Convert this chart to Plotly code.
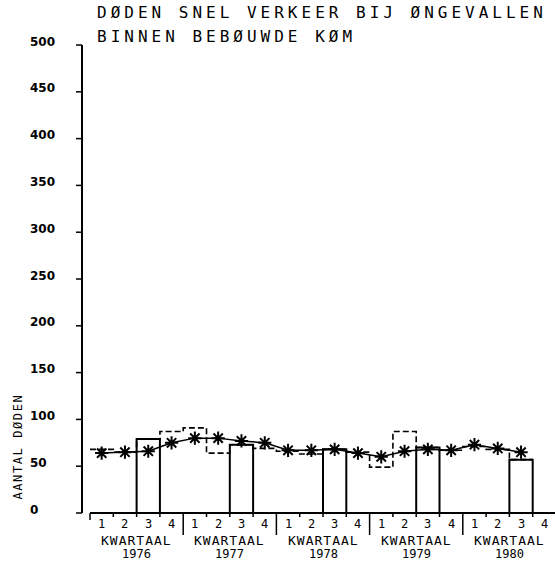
import plotly.graph_objects as go

# ---- data -------------------------------------------------------------
QUARTER_LABELS = ["1", "2", "3", "4"]
YEARS = ["1976", "1977", "1978", "1979", "1980"]
# deaths per quarter, 1976 Q1 .. 1980 Q3
DEATHS = [68, 65, 79, 87, 91, 64, 73, 69, 66, 63, 68, 65, 49, 87, 70, 67, 71, 68, 57]
# smoothed trend (moving average) per quarter
TREND = [64, 65, 66, 75, 80, 80, 77, 75, 67, 67, 68, 64, 60, 66, 68, 67, 73, 69, 65]
Y_TICKS = [0, 50, 100, 150, 200, 250, 300, 350, 400, 450, 500]
Y_TICK_TEXT = [str(v) for v in Y_TICKS]
TITLE_LINES = ["DØDEN SNEL VERKEER BIJ ØNGEVALLEN", "BINNEN BEBØUWDE KØM"]
Y_TITLE = "AANTAL DØDEN"
X_TITLE = "KWARTAAL"
HIGHLIGHT_QUARTER = 3  # third quarters are drawn as full bars

# ---- geometry ---------------------------------------------------------
W, H = 555, 562
X_RANGE = [-3.863, 19.957]
Y_RANGE = [-52.35, 548.1]
PX_X = (X_RANGE[1] - X_RANGE[0]) / W
PX_Y = (Y_RANGE[1] - Y_RANGE[0]) / H
AXIS_X = -8 * PX_X           # y-axis sits a little left of the first quarter
N_Q = len(YEARS) * len(QUARTER_LABELS)

MONO = "DejaVu Sans Mono"
SANS = "DejaVu Sans"
INK = "black"

fig = go.Figure()

# third-quarter bars
bar_x = [i + 0.5 for i in range(len(DEATHS)) if i % 4 == HIGHLIGHT_QUARTER - 1]
bar_y = [DEATHS[i] for i in range(len(DEATHS)) if i % 4 == HIGHLIGHT_QUARTER - 1]
fig.add_trace(go.Bar(
    x=bar_x, y=bar_y, width=1,
    marker=dict(color="rgba(0,0,0,0)", line=dict(color=INK, width=2)),
    hoverinfo="skip",
))

# quarterly values as a dashed step outline
fig.add_trace(go.Scatter(
    x=list(range(len(DEATHS))) + [len(DEATHS)],
    y=DEATHS + [DEATHS[-1]],
    mode="lines",
    line=dict(shape="hv", dash="6px,3px", color=INK, width=1.6),
    hoverinfo="skip",
))

# trend line with asterisk markers
fig.add_trace(go.Scatter(
    x=[i + 0.5 for i in range(len(TREND))],
    y=TREND,
    mode="lines+markers",
    line=dict(color=INK, width=1.5),
    marker=dict(symbol="asterisk-open", size=11, color=INK,
                line=dict(color=INK, width=2)),
    hoverinfo="skip",
))

shapes = []
# y axis
shapes.append(dict(type="line", xref="x", yref="y", x0=AXIS_X, x1=AXIS_X,
                   y0=0, y1=Y_TICKS[-1], line=dict(color=INK, width=2)))
for v in Y_TICKS:
    shapes.append(dict(type="line", xref="x", yref="y",
                       x0=AXIS_X - 6 * PX_X, x1=AXIS_X, y0=v, y1=v,
                       line=dict(color=INK, width=1.5)))
# x axis baseline
shapes.append(dict(type="line", xref="x", yref="y", x0=0, x1=N_Q, y0=0, y1=0,
                   line=dict(color=INK, width=2)))
# quarter and year boundary ticks
for b in range(N_Q + 1):
    if b == 0:
        ln = 7
    elif b % 4 == 0:
        ln = 22
    else:
        ln = 4
    shapes.append(dict(type="line", xref="x", yref="y", x0=b, x1=b,
                       y0=0, y1=-ln * PX_Y, line=dict(color=INK, width=1.5)))

annotations = []
# title
for k, line in enumerate(TITLE_LINES):
    annotations.append(dict(
        text=line, xref="paper", yref="paper", x=95 / W, y=1 - (12 + 25 * k) / H,
        xanchor="left", yanchor="middle", align="left", showarrow=False,
        font=dict(family=MONO, size=16, color=INK),
    ))
# y tick labels
for v, t in zip(Y_TICKS, Y_TICK_TEXT):
    annotations.append(dict(
        text=t, xref="paper", yref="y", x=28 / W, y=v, yshift=3.5,
        xanchor="left", yanchor="middle", showarrow=False,
        font=dict(family=SANS, size=12, color=INK, weight="bold"),
    ))
# y axis title
annotations.append(dict(
    text=Y_TITLE, xref="paper", yref="paper", x=18 / W, y=1 - 447 / H,
    textangle=-90, xanchor="center", yanchor="middle", showarrow=False,
    font=dict(family=MONO, size=12, color=INK),
))
# quarter numbers and year labels
for yi, year in enumerate(YEARS):
    for qi, q in enumerate(QUARTER_LABELS):
        annotations.append(dict(
            text=q, xref="x", yref="y", x=yi * 4 + qi + 0.5, y=-10.5 * PX_Y,
            xanchor="center", yanchor="middle", showarrow=False,
            font=dict(family=MONO, size=12, color=INK),
        ))
    annotations.append(dict(
        text=X_TITLE, xref="x", yref="y", x=yi * 4 + 2, y=-27 * PX_Y,
        xanchor="center", yanchor="middle", showarrow=False,
        font=dict(family=MONO, size=13, color=INK),
    ))
    annotations.append(dict(
        text=year, xref="x", yref="y", x=yi * 4 + 2, y=-40.5 * PX_Y,
        xanchor="center", yanchor="middle", showarrow=False,
        font=dict(family=MONO, size=12, color=INK),
    ))

fig.update_layout(
    width=W, height=H, autosize=False,
    margin=dict(l=0, r=0, t=0, b=0, pad=0),
    paper_bgcolor="white", plot_bgcolor="white",
    showlegend=False, barmode="overlay",
    xaxis=dict(range=X_RANGE, visible=False, fixedrange=True),
    yaxis=dict(range=Y_RANGE, visible=False, fixedrange=True),
    shapes=shapes, annotations=annotations,
)

# widen the letter pitch of the plotter-style lettering
spacing_js = """
var gd = document.getElementById('{plot_id}');
function spaceLetters() {
  gd.querySelectorAll('.annotation-text').forEach(function (t) {
    var s = t.textContent;
    if (s.indexOf('DØDEN SNEL') === 0 || s.indexOf('BINNEN') === 0) {
      t.style.letterSpacing = '4px';
    } else if (s === 'KWARTAAL') {
      t.style.letterSpacing = '1px';
    } else if (s === 'AANTAL DØDEN') {
      t.style.letterSpacing = '1.6px';
    }
  });
}
spaceLetters();
gd.on('plotly_afterplot', spaceLetters);
"""

fig.write_html("out.html", config={"displayModeBar": False}, post_script=spacing_js)
